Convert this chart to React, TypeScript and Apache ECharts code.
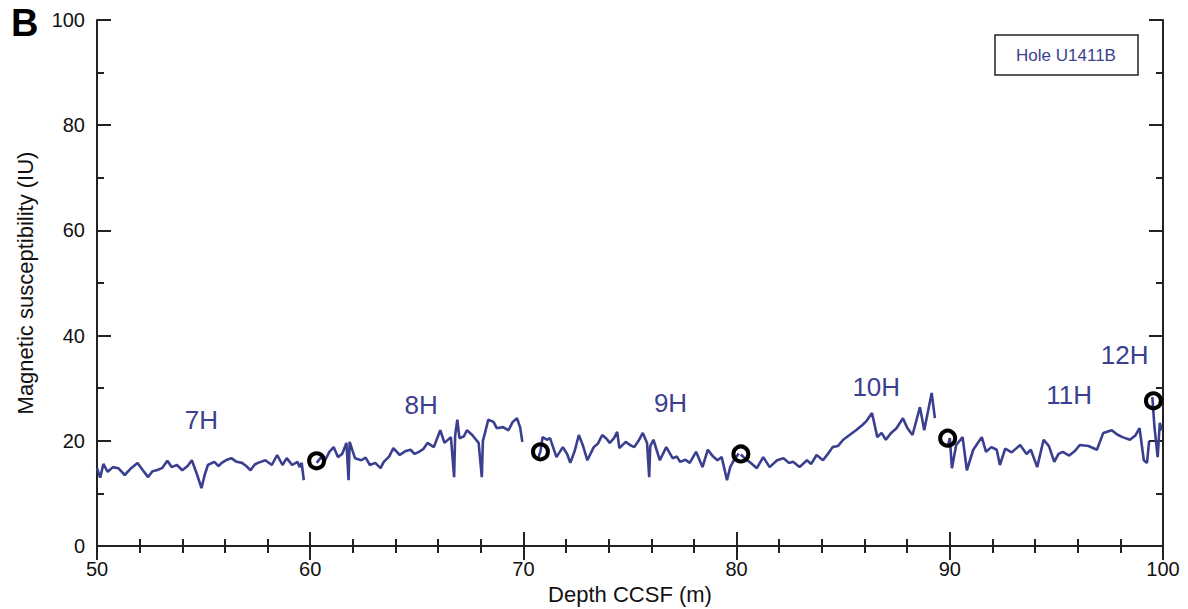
import React, { useEffect, useRef } from "react";
import * as echarts from "echarts";

const core7H: [number, number][] = [[50.0,14.8],[50.15,13],[50.3,15.6],[50.5,14.1],[50.75,15],[51.0,14.8],[51.3,13.5],[51.6,14.8],[51.9,15.8],[52.15,14.4],[52.4,13.1],[52.6,14.2],[52.8,14.4],[53.05,14.8],[53.3,16.2],[53.5,15],[53.75,15.4],[54.0,14.4],[54.25,15.2],[54.45,16.3],[54.7,13.5],[54.9,11.0],[55.05,13.5],[55.2,15.4],[55.5,16],[55.7,15.2],[55.85,15.8],[56.1,16.4],[56.3,16.7],[56.55,16],[56.8,15.8],[57.0,15.2],[57.2,14.4],[57.4,15.5],[57.55,15.8],[57.9,16.3],[58.2,15.4],[58.45,17.3],[58.7,15.4],[58.9,16.7],[59.15,15.4],[59.4,16],[59.5,15],[59.6,15.8],[59.7,12.5]];
const core8H: [number, number][] = [[60.3,15.8],[60.5,16.8],[60.7,16.3],[60.9,17.9],[61.1,18.8],[61.3,16.9],[61.5,17.5],[61.7,19.6],[61.8,12.5],[61.85,19.8],[62.1,16.7],[62.4,16.3],[62.6,16.8],[62.8,15.4],[63.05,15.8],[63.3,14.8],[63.45,16],[63.7,17],[63.9,18.6],[64.2,17.3],[64.45,18],[64.7,18.3],[64.9,17.5],[65.1,17.9],[65.3,18.4],[65.5,19.6],[65.8,18.8],[66.1,22],[66.3,19.6],[66.6,20.7],[66.75,13.1],[66.8,21],[66.9,24],[67.0,20.5],[67.2,20.8],[67.35,22],[67.6,21.1],[67.9,19.6],[68.05,13.1],[68.1,20],[68.2,21.5],[68.35,24],[68.6,23.6],[68.75,22.4],[69.05,22.6],[69.3,22],[69.5,23.6],[69.7,24.3],[69.85,22.5],[69.95,19.8]];
const core9H: [number, number][] = [[70.7,16.8],[70.8,18],[70.9,20.7],[71.1,20.2],[71.25,20.5],[71.55,16.9],[71.85,18.8],[72.05,17.5],[72.2,15.8],[72.4,18],[72.6,21.1],[72.8,19],[73.0,16.3],[73.3,18.8],[73.5,19.5],[73.7,21.1],[73.9,20.4],[74.05,19.6],[74.25,20.5],[74.4,21.7],[74.5,18.6],[74.8,19.8],[75.0,19.2],[75.2,18.8],[75.4,20],[75.6,21.5],[75.8,19.6],[75.9,13.1],[75.95,19],[76.1,20.2],[76.4,16.3],[76.7,18.8],[77.0,16.7],[77.2,17],[77.35,16],[77.6,16.4],[77.8,15.8],[78.1,17.9],[78.4,15],[78.65,18.3],[78.9,17],[79.1,16.3],[79.3,16.9],[79.55,12.5],[79.7,15],[79.9,16.5],[80.1,17.6]];
const core10H: [number, number][] = [[80.2,17.4],[80.4,16.6],[80.6,16],[80.95,14.8],[81.25,16.9],[81.55,15],[81.9,16.3],[82.2,16.7],[82.45,15.8],[82.65,16],[82.95,15],[83.3,16.3],[83.5,15.6],[83.75,17.3],[84.05,16.3],[84.3,17.6],[84.5,18.8],[84.75,19],[85.0,20.2],[85.3,21.1],[85.6,22],[85.9,23],[86.1,23.8],[86.35,25.3],[86.6,20.7],[86.8,21.5],[87.0,20.2],[87.25,21.5],[87.5,22.4],[87.8,24.3],[88.0,22.5],[88.25,21.1],[88.6,26.4],[88.8,22],[89.15,29.1],[89.3,24.3]];
const core11H: [number, number][] = [[89.9,18.8],[90.0,20.5],[90.1,14.8],[90.3,19.2],[90.6,20.7],[90.8,14.4],[91.1,18.3],[91.5,20.7],[91.7,17.9],[91.95,18.8],[92.2,18.3],[92.35,15.4],[92.6,18.5],[92.9,17.8],[93.3,19.2],[93.6,17.5],[93.8,18.3],[94.1,15],[94.4,20.2],[94.65,19],[94.9,16],[95.1,17.5],[95.3,17.9],[95.6,17.2],[95.85,18],[96.1,19.2],[96.5,19],[96.9,18.3],[97.2,21.5],[97.6,22],[97.85,21.2],[98.1,20.7],[98.45,20.2],[98.7,21],[98.9,22.4],[99.1,16.3],[99.25,15.8],[99.35,20]];
const core12H: [number, number][] = [[99.5,28.3],[99.6,22.6],[99.75,16.9],[99.85,23.4],[99.95,22]];

const tiePoints: [number, number][] = [[60.3,16.2],[70.8,17.9],[80.2,17.5],[89.9,20.5],[99.55,27.6]];

const coreNames = ["7H", "8H", "9H", "10H", "11H", "12H"];
const coreLabelDepth = [54.9, 65.2, 76.9, 86.55, 95.6, 98.2];
const coreLabelValue = [24, 26.8, 27.2, 30.2, 28.7, 36.3];

const LINE = "#3b3f8f";
const FONT = "'Liberation Sans', Arial, Helvetica, sans-serif";

export default function App() {
  const ref = useRef<HTMLDivElement>(null);
  useEffect(() => {
    document.body.style.margin = "0";
    const chart = echarts.init(ref.current!, undefined, { renderer: "svg" });
    const cores = [core7H, core8H, core9H, core10H, core11H, core12H];
    const axisLine = { show: true, lineStyle: { color: "#222", width: 2 } };
    const tick = { inside: true, length: 14, lineStyle: { color: "#222", width: 2 } };
    const minor = (n: number) => ({ show: true, splitNumber: n, length: 7, lineStyle: { color: "#222", width: 2 } });
    const option: any = {
      animation: false,
      grid: { left: 97, right: 25, top: 20, bottom: 63, containLabel: false, outerBoundsMode: "none" },
      xAxis: [
        {
          type: "value", min: 50, max: 100, interval: 10, position: "bottom",
          name: "Depth CCSF (m)", nameLocation: "middle", nameGap: 34,
          nameTextStyle: { fontFamily: FONT, fontSize: 22, color: "#111" },
          axisLine, axisTick: tick, minorTick: minor(5),
          axisLabel: { fontFamily: FONT, fontSize: 20, color: "#111", margin: 13 },
          splitLine: { show: false },
        },
        {
          type: "value", min: 50, max: 100, interval: 10, position: "top",
          axisLine, axisTick: tick, minorTick: minor(5),
          axisLabel: { show: false },
          splitLine: { show: false },
        },
      ],
      yAxis: [
        {
          type: "value", min: 0, max: 100, interval: 20, position: "left",
          name: "Magnetic susceptibility (IU)", nameLocation: "middle", nameGap: 61,
          nameTextStyle: { fontFamily: FONT, fontSize: 22, color: "#111" },
          axisLine, axisTick: tick, minorTick: minor(2),
          axisLabel: { fontFamily: FONT, fontSize: 20, color: "#111", margin: 12 },
          splitLine: { show: false },
        },
        {
          type: "value", min: 0, max: 100, interval: 20, position: "right",
          axisLine, axisTick: tick, minorTick: minor(2),
          axisLabel: { show: false },
          splitLine: { show: false },
        },
      ],
      series: [
        ...cores.map((c, i) => ({
          type: "line", name: coreNames[i], data: c, showSymbol: false, symbol: "none",
          lineStyle: { color: LINE, width: 2.6 }, z: 2,
        })),
        {
          type: "scatter", data: tiePoints, symbol: "circle", symbolSize: 15,
          itemStyle: { color: "rgba(0,0,0,0)", borderColor: "#000", borderWidth: 4, opacity: 1 }, z: 5,
        },
        {
          type: "scatter", symbol: "circle", symbolSize: 0,
          itemStyle: { opacity: 1 },
          data: coreNames.map((n, i) => ({ name: n, value: [coreLabelDepth[i], coreLabelValue[i]] })),
          label: { show: true, position: "inside", formatter: "{b}", fontFamily: FONT, fontSize: 26, color: LINE, opacity: 1 },
          z: 4,
        },
      ],
      graphic: [
        { type: "text", left: 11, top: 4, style: { text: "B", font: `bold 38px ${FONT}`, fill: "#000" } },
        {
          type: "rect", shape: { x: 995, y: 35, width: 143, height: 40 },
          style: { fill: "#fff", stroke: "#222", lineWidth: 1.5 }, z: 10,
        },
        {
          type: "text", x: 1066, y: 55, z: 11,
          style: { text: "Hole U1411B", font: `17px ${FONT}`, fill: LINE, align: "center", verticalAlign: "middle" },
        },
      ],
    };
    chart.setOption(option);
    return () => chart.dispose();
  }, []);
  return <div ref={ref} style={{ width: 1188, height: 609 }} />;
}
